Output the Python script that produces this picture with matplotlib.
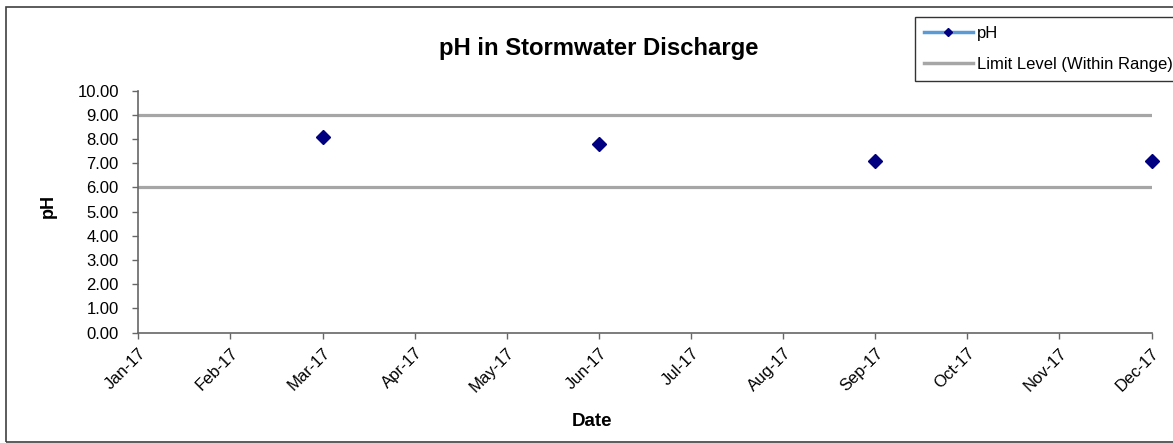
import matplotlib
matplotlib.use("Agg")
import matplotlib.pyplot as plt
from matplotlib.lines import Line2D
from matplotlib.patches import Rectangle

plt.rcParams['font.family'] = ['Liberation Sans', 'DejaVu Sans']

months = ["Jan-17", "Feb-17", "Mar-17", "Apr-17", "May-17", "Jun-17",
          "Jul-17", "Aug-17", "Sep-17", "Oct-17", "Nov-17", "Dec-17"]
sample_months = ["Mar-17", "Jun-17", "Sep-17", "Dec-17"]
ph_values = [8.1, 7.8, 7.1, 7.1]
limit_upper = 9.0
limit_lower = 6.0
y_ticks = [0, 1, 2, 3, 4, 5, 6, 7, 8, 9, 10]

fig = plt.figure(figsize=(11.73, 4.43), dpi=100)
ax = fig.add_axes([0.1179, 0.249, 0.8638, 0.5463])

xpos = list(range(len(months)))
sample_x = [months.index(m) for m in sample_months]

gray = '#A6A6A6'
ax.plot(xpos, [limit_upper] * len(months), color=gray, lw=2.3, solid_capstyle='round', zorder=2)
ax.plot(xpos, [limit_lower] * len(months), color=gray, lw=2.3, solid_capstyle='round', zorder=2)
ax.plot(sample_x, ph_values, linestyle='none', marker='D', markersize=6.8,
        color='#000080', zorder=3, clip_on=False)

ax.set_xlim(0, len(months) - 1)
ax.set_ylim(0, 10)
ax.set_xticks(xpos)
ax.set_xticklabels(months, rotation=45, ha='right', rotation_mode='anchor', fontsize=12)
ax.set_yticks(y_ticks)
ax.set_yticklabels([f"{v:.2f}" for v in y_ticks], fontsize=12)

for s in ['top', 'right']:
    ax.spines[s].set_visible(False)
for s in ['left', 'bottom']:
    ax.spines[s].set_color('#666666')
    ax.spines[s].set_linewidth(1.2)
ax.tick_params(axis='both', direction='out', length=4, width=1, color='#666666')
ax.tick_params(axis='y', pad=10)
ax.tick_params(axis='x', pad=5)

fig.text(592 / 1173, 1 - 421 / 443, "Date", fontsize=13.5, fontweight='bold',
         ha='center', va='center')
fig.text(48 / 1173, 1 - 206 / 443, "pH", fontsize=13, fontweight='bold',
         ha='center', va='center', rotation=90)

fig.text(599 / 1173, 1 - 48 / 443, "pH in Stormwater Discharge", fontsize=17.2,
         fontweight='bold', ha='center', va='center')

# outer chart border
fig.patches.append(Rectangle((6 / 1173, 1 - 441.7 / 443), 1.2, (441.7 - 7.3) / 443,
                             transform=fig.transFigure, fill=False,
                             edgecolor='#404040', lw=1.2))

handles = [Line2D([], [], color='#5B9BD5', lw=2.5, marker='D', markersize=4,
                  markerfacecolor='#000080', markeredgecolor='#000080'),
           Line2D([], [], color=gray, lw=2.5)]
leg = fig.legend(handles, ["pH", "Limit Level (Within Range)"], loc='upper left',
                 bbox_to_anchor=(915 / 1173, 1 - 17 / 443), borderaxespad=0,
                 fontsize=12, frameon=True, fancybox=False, edgecolor='black',
                 handlelength=2.9, handletextpad=0.25, labelspacing=0.95,
                 borderpad=0.55)
leg.get_frame().set_linewidth(1.0)

fig.savefig("out.png", dpi=100)
